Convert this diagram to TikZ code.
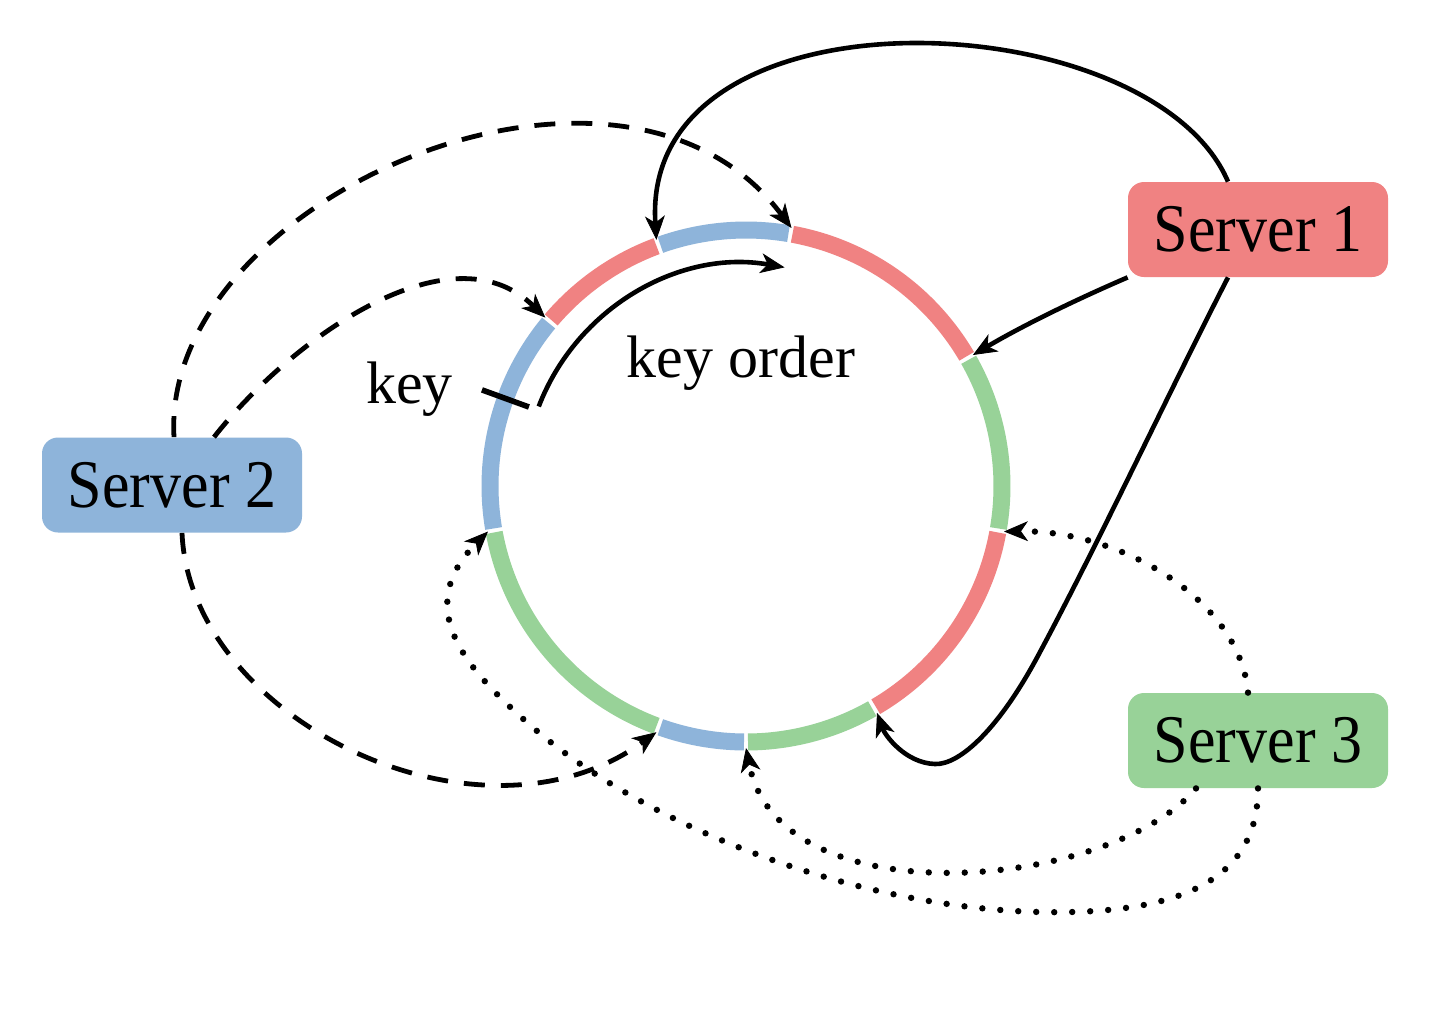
\documentclass[tikz,border=0pt]{standalone}
\usepackage{fontspec}
\setmainfont{Liberation Serif}
\usetikzlibrary{arrows.meta,calc}
\definecolor{ringred}{RGB}{240,130,130}
\definecolor{ringblue}{RGB}{142,180,218}
\definecolor{ringgreen}{RGB}{152,210,152}

\begin{document}
\begin{tikzpicture}[x=0.5pt,y=-0.5pt,
  tip/.style={-{Stealth[length=12pt,width=10pt,inset=3.5pt,line width=0.4pt]}},
  solidlink/.style={tip, line width=2.3pt},
  dashlink/.style={tip, line width=2.4pt, dash pattern=on 10.5pt off 8pt},
  dotlink/.style={tip, line width=3.2pt, line cap=round, dash pattern=on 0pt off 9pt},
  server/.style={rounded corners=8pt, minimum width=130pt, minimum height=47.5pt,
    inner sep=0pt, font=\fontsize{31}{36}\selectfont},
  ringseg/.style={line width=8.5pt},
  lbl/.style={font=\fontsize{30}{36}\selectfont, inner sep=0pt, anchor=base}]

% canvas
\useasboundingbox (0,0) rectangle (1440,1009);
\fill[white] (0,0) rectangle (1440,1009);

% the key ring, split into coloured ranges
\coordinate (C) at (746,486);
\foreach \a/\b/\col in {250/280/ringblue, 280/330/ringred, 330/370/ringgreen,
                         10/60/ringred, 60/90/ringgreen, 90/110/ringblue,
                         110/170/ringgreen, 170/220/ringblue, 220/250/ringred}{
  \pgfmathsetmacro{\sa}{\a+0.45}
  \pgfmathsetmacro{\ea}{\b-0.45}
  \draw[ringseg,\col] ($(C)+(\sa:256)$) arc[start angle=\sa, end angle=\ea, radius=256];
}

% range boundaries where the arrows land
\foreach \ang in {250,280,330,10,60,90,110,170,220}
  \coordinate (e\ang) at ($(C)+(\ang:262)$);

% servers
\node[server, fill=ringred]   (S1) at (1258,229.5) {\scalebox{1}[1.1]{Server 1}};
\node[server, fill=ringblue]  (S2) at (172,485)    {\scalebox{1}[1.1]{Server 2}};
\node[server, fill=ringgreen] (S3) at (1258,740.5) {\scalebox{1}[1.1]{Server 3}};

% key marker and key order
\coordinate (tickin)  at ($(C)+(200:231)$);
\coordinate (tickout) at ($(C)+(200:281)$);
\draw[line width=2.8pt] (tickin) -- (tickout);
\node[lbl] (keylbl) at (409.5,403) {key};

\coordinate (ko) at ($(C)+(201:222)$);
\draw[solidlink] (ko) arc[start angle=201, end angle=280, radius=222];
\node[lbl] (orderlbl) at (741,377) {key order};

% Server 1 ranges
\draw[solidlink] ([xshift=-15pt]S1.north) .. controls (1150,0) and (640,-20) .. (e250);
\draw[solidlink] (S1.south west) .. controls (1075,300) and (1022,326) .. (e330);
\draw[solidlink] ([xshift=-15pt]S1.south) .. controls (1170,390) and (1100,540) .. (1040,652)
  .. controls (1000,728) and (960,765) .. (935,764)
  .. controls (905,763) and (885,735) .. (e60);

% Server 2 ranges
\draw[dashlink] ([xshift=1pt]S2.north) .. controls (160,200) and (620,0) .. (e280);
\draw[dashlink] ([xshift=21pt]S2.north) .. controls (290,340) and (450,225) .. (e220);
\draw[dashlink] ([xshift=5pt]S2.south) .. controls (190,720) and (480,860) .. (e110);

% Server 3 ranges
\draw[dotlink] ([xshift=-5pt]S3.north) .. controls (1240,600) and (1120,530) .. (e10);
\draw[dotlink] ([xshift=-31pt]S3.south) .. controls (1110,890) and (780,920) .. (e90);
\draw[dotlink] (S3.south) .. controls (1258,880) and (1180,915) .. (1040,912)
  .. controls (860,908) and (650,830) .. (530,725)
  .. controls (470,672) and (410,610) .. (e170);

\end{tikzpicture}
\end{document}
